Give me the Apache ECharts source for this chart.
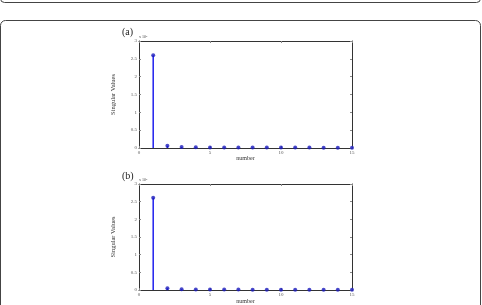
<!DOCTYPE html>
<html>
<head>
<meta charset="utf-8">
<script src="https://cdn.jsdelivr.net/npm/echarts@6/dist/echarts.min.js"></script>
<style>
body { margin: 0; background: #fff; }
#main { width: 482px; height: 305px; }
</style>
</head>
<body>
<div id="main"></div>
<script>
// singular values, index 1..15
var numbers = [1, 2, 3, 4, 5, 6, 7, 8, 9, 10, 11, 12, 13, 14, 15];
var valuesA = [2.6, 0.06, 0.025, 0.02, 0.017, 0.015, 0.014, 0.013, 0.012, 0.012, 0.011, 0.011, 0.010, 0.010, 0.009];
var valuesB = [2.61, 0.055, 0.024, 0.019, 0.017, 0.015, 0.014, 0.013, 0.012, 0.011, 0.011, 0.010, 0.010, 0.009, 0.009];
var xTicks = [0, 5, 10, 15];
var yTicks = [0, 0.5, 1, 1.5, 2, 2.5, 3];

var chart = echarts.init(document.getElementById('main'));
var serif = 'Liberation Serif';
var axisCol = '#333';
var stemCol = '#2020ee';
var dotCol = '#1c1cbc';

function pairs(vals) {
    return numbers.map(function (n, i) { return [n, vals[i]]; });
}

function xAx(gi, pos, labels) {
    return {
        type: 'value', gridIndex: gi, position: pos, min: xTicks[0], max: xTicks[xTicks.length - 1], interval: 5,
        name: labels ? 'number' : '', nameLocation: 'middle', nameGap: 7,
        nameTextStyle: { fontFamily: serif, fontSize: 6, color: '#333' },
        axisLine: { onZero: false, lineStyle: { color: axisCol, width: 1 } },
        axisTick: { inside: true, length: 2, lineStyle: { color: '#888' } },
        axisLabel: { show: labels, fontFamily: serif, fontSize: 5, color: '#555', margin: 2 },
        splitLine: { show: false }
    };
}
function yAx(gi, pos, labels) {
    return {
        type: 'value', gridIndex: gi, position: pos, min: yTicks[0], max: yTicks[yTicks.length - 1], interval: 0.5,
        name: labels ? 'Singular Values' : '', nameLocation: 'middle', nameGap: 22,
        nameTextStyle: { fontFamily: serif, fontSize: 6.5, color: '#333' },
        axisLine: { onZero: false, lineStyle: { color: axisCol, width: 1 } },
        axisTick: { inside: true, length: 2, lineStyle: { color: '#888' } },
        axisLabel: { show: labels, fontFamily: serif, fontSize: 5, color: '#555', margin: 2 },
        splitLine: { show: false }
    };
}
function stems(gi, vals) {
    return [{
        type: 'bar', xAxisIndex: gi * 2, yAxisIndex: gi * 2, data: pairs(vals),
        barWidth: 1.5, itemStyle: { color: stemCol }, silent: true
    }, {
        type: 'scatter', xAxisIndex: gi * 2, yAxisIndex: gi * 2, data: pairs(vals),
        symbolSize: 4, itemStyle: { color: dotCol }, silent: true
    }];
}

var option = {
    animation: false,
    grid: [
        { left: 139, top: 41, width: 213, height: 107 },
        { left: 139, top: 184, width: 213, height: 107 }
    ],
    xAxis: [xAx(0, 'bottom', true), xAx(0, 'top', false), xAx(1, 'bottom', true), xAx(1, 'top', false)],
    yAxis: [yAx(0, 'left', true), yAx(0, 'right', false), yAx(1, 'left', true), yAx(1, 'right', false)],
    series: stems(0, valuesA).concat(stems(1, valuesB)),
    graphic: [
        { type: 'rect', shape: { x: 0.5, y: -20, width: 480, height: 22.5, r: 4 }, style: { fill: 'none', stroke: '#444', lineWidth: 1 } },
        { type: 'rect', shape: { x: 0.5, y: 20.5, width: 480, height: 310, r: 5 }, style: { fill: 'none', stroke: '#444', lineWidth: 1 } },
        { type: 'text', left: 122, top: 27, style: { text: '(a)', font: '10px "Liberation Serif"', fill: '#222' } },
        { type: 'text', left: 122, top: 171, style: { text: '(b)', font: '10px "Liberation Serif"', fill: '#222' } },
        { type: 'text', left: 139, top: 35, style: { text: 'x 10\u2075', font: '4px "Liberation Serif"', fill: '#444' } },
        { type: 'text', left: 139, top: 178, style: { text: 'x 10\u2075', font: '4px "Liberation Serif"', fill: '#444' } }
    ]
};
chart.setOption(option);
</script>
</body>
</html>
